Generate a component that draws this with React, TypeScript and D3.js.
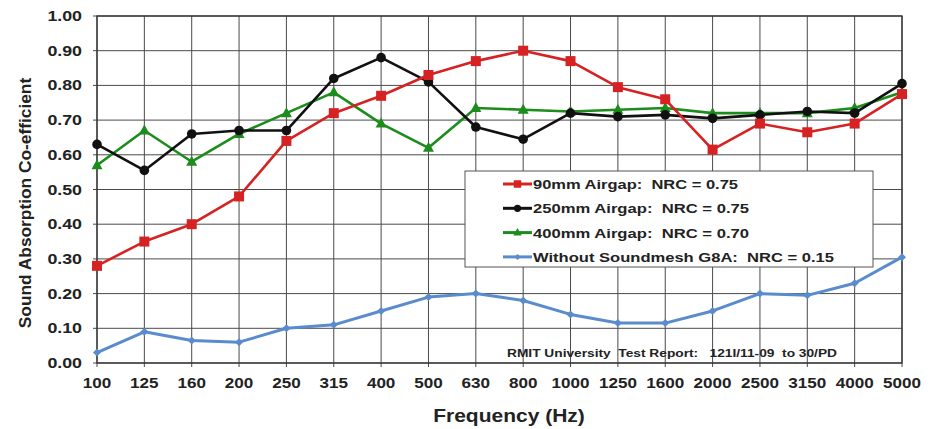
import * as d3 from "d3";

const frequencies = ["100", "125", "160", "200", "250", "315", "400", "500", "630", "800", "1000", "1250", "1600", "2000", "2500", "3150", "4000", "5000"];

const airgap90 = [0.28, 0.35, 0.40, 0.48, 0.64, 0.72, 0.77, 0.83, 0.87, 0.90, 0.87, 0.795, 0.76, 0.615, 0.69, 0.665, 0.69, 0.775];
const airgap250 = [0.63, 0.555, 0.66, 0.67, 0.67, 0.82, 0.88, 0.81, 0.68, 0.645, 0.72, 0.71, 0.715, 0.705, 0.715, 0.725, 0.72, 0.805];
const airgap400 = [0.57, 0.67, 0.58, 0.66, 0.72, 0.78, 0.69, 0.62, 0.735, 0.73, 0.725, 0.73, 0.735, 0.72, 0.72, 0.72, 0.735, 0.78];
const withoutMesh = [0.03, 0.09, 0.065, 0.06, 0.10, 0.11, 0.15, 0.19, 0.20, 0.18, 0.14, 0.115, 0.115, 0.15, 0.20, 0.195, 0.23, 0.305];

const yTicks = [0, 0.1, 0.2, 0.3, 0.4, 0.5, 0.6, 0.7, 0.8, 0.9, 1.0];

const seriesNames = [
  "90mm Airgap:  NRC = 0.75",
  "250mm Airgap:  NRC = 0.75",
  "400mm Airgap:  NRC = 0.70",
  "Without Soundmesh G8A:  NRC = 0.15",
];

const reportNote = "RMIT University  Test Report:   121I/11-09  to 30/PD";

type Marker = "square" | "circle" | "triangle" | "diamond";

const series: { name: string; values: number[]; color: string; marker: Marker; legendWidth: number }[] = [
  { name: seriesNames[3], values: withoutMesh, color: "#5a8ccd", marker: "diamond", legendWidth: 301 },
  { name: seriesNames[2], values: airgap400, color: "#1c8c1c", marker: "triangle", legendWidth: 216 },
  { name: seriesNames[1], values: airgap250, color: "#111111", marker: "circle", legendWidth: 216 },
  { name: seriesNames[0], values: airgap90, color: "#d62222", marker: "square", legendWidth: 205 },
];

const width = 934;
const height = 429;
const margin = { top: 16, right: 32, bottom: 66, left: 97 };
const font = "'Liberation Sans', Arial, sans-serif";
const stretch = 1.27; // the source picture is wider than it is tall

function MarkerShape({ type, x, y, color, size = 1 }: { type: Marker; x: number; y: number; color: string; size?: number }) {
  if (type === "square") return <rect x={x - 5 * size} y={y - 5 * size} width={10 * size} height={10 * size} fill={color} />;
  if (type === "circle") return <circle cx={x} cy={y} r={4.8 * size} fill={color} />;
  if (type === "triangle")
    return <path d={`M${x},${y - 6 * size}L${x + 5.5 * size},${y + 4 * size}L${x - 5.5 * size},${y + 4 * size}Z`} fill={color} />;
  return <path d={`M${x},${y - 4 * size}L${x + 4 * size},${y}L${x},${y + 4 * size}L${x - 4 * size},${y}Z`} fill={color} />;
}

export default function App() {
  const x = d3
    .scalePoint<string>()
    .domain(frequencies)
    .range([margin.left, width - margin.right]);

  const y = d3
    .scaleLinear()
    .domain([0, 1])
    .range([height - margin.bottom, margin.top]);

  const line = d3
    .line<number>()
    .x((_, i) => x(frequencies[i])!)
    .y((d) => y(d));

  const bottom = height - margin.bottom;
  const legendOrder = [3, 2, 1, 0];

  return (
    <div style={{ position: "absolute", left: 0, top: 0 }}>
      <svg width={width} height={height} style={{ display: "block", background: "#fff" }}>
        {/* grid */}
        <g stroke="#4a4a4a" strokeWidth={1}>
          {yTicks.map((t) => (
            <line key={t} x1={margin.left - 4} x2={width - margin.right} y1={y(t)} y2={y(t)} />
          ))}
          {frequencies.map((f) => (
            <line key={f} x1={x(f)} x2={x(f)} y1={margin.top} y2={bottom + 4} />
          ))}
        </g>
        <rect
          x={margin.left}
          y={margin.top}
          width={width - margin.left - margin.right}
          height={bottom - margin.top}
          fill="none"
          stroke="#333"
          strokeWidth={1.3}
        />

        {/* y tick labels */}
        <g fontFamily={font} fontWeight="bold" fontSize={14} fill="#222" textAnchor="end">
          {yTicks.map((t) => (
            <text key={t} transform={`translate(${margin.left - 15},${y(t) + 5}) scale(${stretch},1)`}>
              {d3.format(".2f")(t)}
            </text>
          ))}
        </g>

        {/* x tick labels */}
        <g fontFamily={font} fontWeight="bold" fontSize={14} fill="#222" textAnchor="middle">
          {frequencies.map((f) => (
            <text key={f} transform={`translate(${x(f)},${bottom + 25}) scale(1.22,1)`}>
              {f}
            </text>
          ))}
        </g>

        <text
          transform={`translate(509,422) scale(1.2,1)`}
          textAnchor="middle"
          fontFamily={font}
          fontWeight="bold"
          fontSize={17.5}
          fill="#222"
        >
          Frequency (Hz)
        </text>
        <text
          transform={`translate(31,203) rotate(-90) scale(1.05,1)`}
          textAnchor="middle"
          fontFamily={font}
          fontWeight="bold"
          fontSize={16.5}
          fill="#222"
        >
          Sound Absorption Co-efficient
        </text>

        {/* legend box */}
        <rect x={465} y={171} width={408} height={96} fill="#fff" stroke="#555" strokeWidth={1} />

        {/* series */}
        {series.map((s) => (
          <g key={s.name}>
            <path
              d={line(s.values)!}
              fill="none"
              stroke={s.color}
              strokeWidth={s.marker === "diamond" ? 3 : 2.6}
              strokeLinejoin="round"
            />
            {s.values.map((v, i) => (
              <MarkerShape key={i} type={s.marker} x={x(frequencies[i])!} y={y(v)} color={s.color} />
            ))}
          </g>
        ))}

        {/* legend entries */}
        <g fontFamily={font} fontWeight="bold" fontSize={13.5} fill="#222">
          {legendOrder.map((si, row) => {
            const s = series[si];
            const ly = 184 + row * 24.3;
            return (
              <g key={s.name}>
                <line x1={503} x2={532} y1={ly} y2={ly} stroke={s.color} strokeWidth={3} />
                <MarkerShape type={s.marker} x={517.5} y={ly} color={s.color} size={0.75} />
                <text
                  x={533}
                  y={ly + 5}
                  textLength={s.legendWidth}
                  lengthAdjust="spacingAndGlyphs"
                  style={{ whiteSpace: "pre" }}
                >
                  {s.name}
                </text>
              </g>
            );
          })}
        </g>

        <text
          x={507}
          y={357}
          textLength={330}
          lengthAdjust="spacingAndGlyphs"
          fontFamily={font}
          fontWeight="bold"
          fontSize={11}
          fill="#222"
          style={{ whiteSpace: "pre" }}
        >
          {reportNote}
        </text>
      </svg>
    </div>
  );
}
